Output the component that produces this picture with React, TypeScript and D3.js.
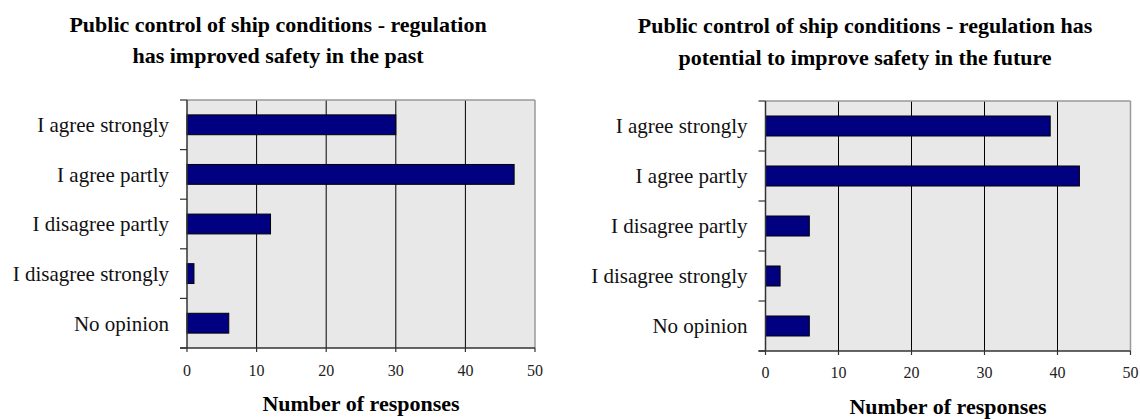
import React from "react";
import * as d3 from "d3";

const categories = [
  "I agree strongly",
  "I agree partly",
  "I disagree partly",
  "I disagree strongly",
  "No opinion",
];
const pastValues = [30, 47, 12, 1, 6];
const futureValues = [39, 43, 6, 2, 6];
const xTicks = [0, 10, 20, 30, 40, 50];
const pastTitle = ["Public control of ship conditions - regulation", "has improved safety in the past"];
const futureTitle = ["Public control of ship conditions - regulation has", "potential to improve safety in the future"];
const xAxisTitle = "Number of responses";

const FONT = "Liberation Serif, Times New Roman, DejaVu Serif, serif";

type Layout = {
  x0: number; x1: number; y0: number; y1: number;
  titleX: number; titleY: number[]; xTitleY: number; tickY: number;
};

function Panel({ values, title, L }: { values: number[]; title: string[]; L: Layout }) {
  const x = d3.scaleLinear().domain([0, 50]).range([L.x0, L.x1]);
  const y = d3.scaleBand<string>().domain(categories).range([L.y0, L.y1]).paddingInner(0.6).paddingOuter(0.3);
  const step = y.step();
  const boundaries = d3.range(categories.length + 1).map((i) => L.y0 + i * step);
  return (
    <g>
      {title.map((t, i) => (
        <text key={i} x={L.titleX} y={L.titleY[i]} textAnchor="middle" style={{ fontFamily: FONT, fontWeight: 700, fontSize: 22 }}>{t}</text>
      ))}
      <rect x={L.x0} y={L.y0} width={L.x1 - L.x0} height={L.y1 - L.y0} fill="#e8e8e8" />
      {xTicks.filter((t) => t > 0 && t < 50).map((t) => (
        <line key={t} x1={x(t)} x2={x(t)} y1={L.y0} y2={L.y1} stroke="#000" strokeWidth={1} />
      ))}
      <line x1={L.x0} x2={L.x1} y1={L.y0} y2={L.y0} stroke="#999" strokeWidth={1.5} />
      <line x1={L.x1} x2={L.x1} y1={L.y0} y2={L.y1} stroke="#999" strokeWidth={1.5} />
      {categories.map((c, i) => (
        <rect key={c} x={x(0)} y={y(c)!} width={x(values[i]) - x(0)} height={y.bandwidth()} fill="#000080" stroke="#000" strokeWidth={1} />
      ))}
      <line x1={L.x0} x2={L.x0} y1={L.y0} y2={L.y1} stroke="#333" strokeWidth={1.5} />
      <line x1={L.x0 - 7} x2={L.x1} y1={L.y1} y2={L.y1} stroke="#333" strokeWidth={1.5} />
      {boundaries.map((b, i) => (
        <line key={i} x1={L.x0 - 7} x2={L.x0} y1={b} y2={b} stroke="#333" strokeWidth={1.2} />
      ))}
      {xTicks.map((t) => (
        <line key={t} x1={x(t)} x2={x(t)} y1={L.y1} y2={L.y1 + 4} stroke="#333" strokeWidth={1.2} />
      ))}
      {xTicks.map((t) => (
        <text key={t} x={x(t)} y={L.tickY} textAnchor="middle" fill="#222" style={{ fontFamily: FONT, fontSize: 16 }}>{t}</text>
      ))}
      {categories.map((c) => (
        <text key={c} x={L.x0 - 18} y={y(c)! + y.bandwidth() / 2} dy="0.35em" textAnchor="end" fill="#111" style={{ fontFamily: FONT, fontSize: 21 }}>{c}</text>
      ))}
      <text x={(L.x0 + L.x1) / 2} y={L.xTitleY} textAnchor="middle" style={{ fontFamily: FONT, fontWeight: 700, fontSize: 22 }}>{xAxisTitle}</text>
    </g>
  );
}

export default function App() {
  const left: Layout = { x0: 187, x1: 535, y0: 100, y1: 348, titleX: 278, titleY: [32, 63], xTitleY: 411, tickY: 376 };
  const right: Layout = { x0: 765.5, x1: 1130.5, y0: 101, y1: 351, titleX: 865, titleY: [33, 65], xTitleY: 414, tickY: 378 };
  return (
    <svg width={1140} height={419} style={{ position: "absolute", left: 0, top: 0, background: "#fff", fontFamily: FONT }}>
      <rect width={1140} height={419} fill="#fff" />
      <Panel values={pastValues} title={pastTitle} L={left} />
      <Panel values={futureValues} title={futureTitle} L={right} />
    </svg>
  );
}
